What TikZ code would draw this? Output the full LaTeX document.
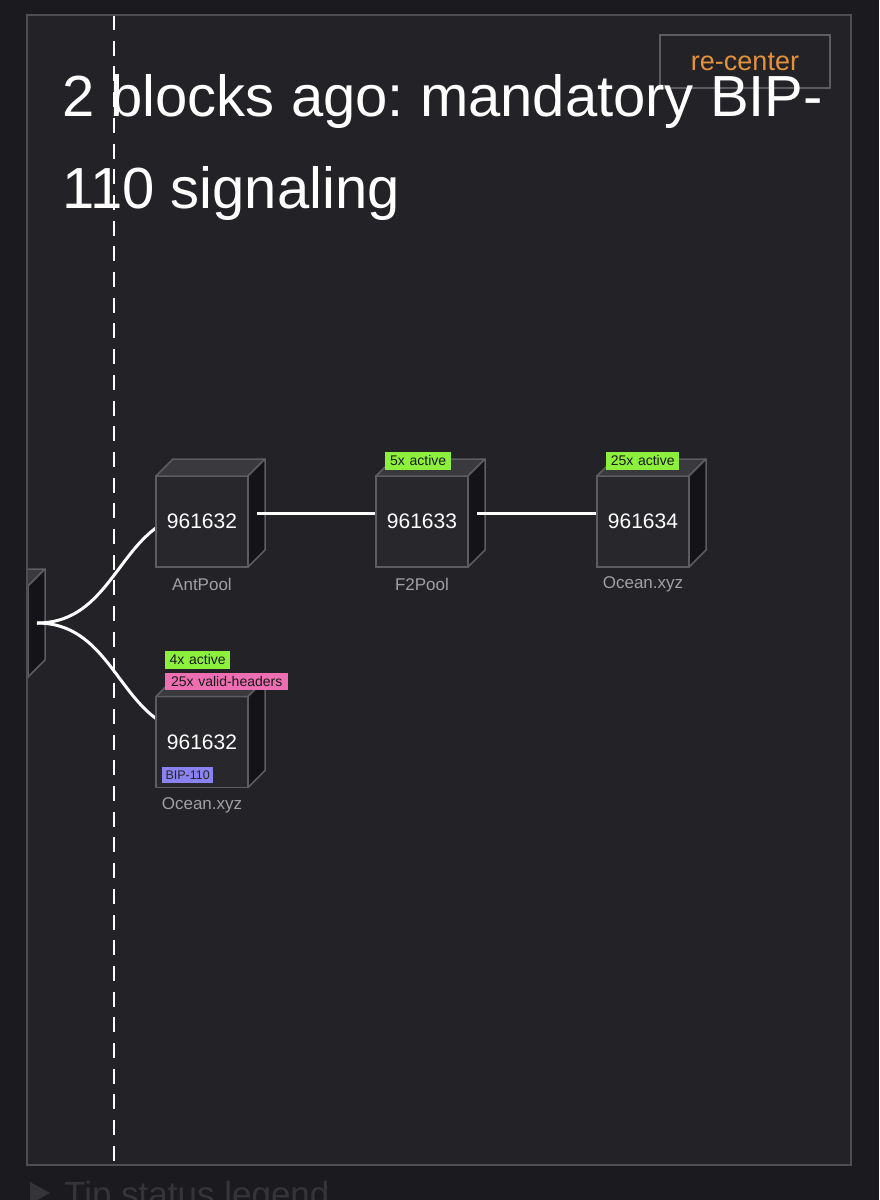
\documentclass[tikz,border=0pt]{standalone}
\usepackage{fontspec}
\setmainfont{Liberation Sans}
\frenchspacing
\definecolor{outerbg}{RGB}{27,27,31}
\definecolor{panelbg}{RGB}{35,35,39}
\definecolor{paneledge}{RGB}{78,78,82}
\definecolor{frontc}{RGB}{40,40,44}
\definecolor{topc}{RGB}{58,58,62}
\definecolor{sidec}{RGB}{20,20,24}
\definecolor{edgec}{RGB}{92,92,97}
\definecolor{labelc}{RGB}{160,160,165}
\definecolor{greentag}{RGB}{140,240,60}
\definecolor{pinktag}{RGB}{238,110,178}
\definecolor{purpletag}{RGB}{138,130,240}
\definecolor{orangec}{RGB}{228,145,60}
\definecolor{btnedge}{RGB}{92,92,97}
\definecolor{legendc}{RGB}{52,52,57}
\tikzset{
  frontbox/.style={draw=edgec, fill=frontc, line width=1.5pt, minimum width=92pt, minimum height=91pt, inner sep=0pt, outer sep=0pt, text=white, font=\fontsize{21}{24}\selectfont},
  facetop/.style={fill=topc, draw=edgec, line width=1.5pt, line join=round},
  faceside/.style={fill=sidec, draw=edgec, line width=1.5pt, line join=round},
  poollabel/.style={text=labelc, font=\fontsize{17}{20}\selectfont, inner sep=0pt},
  tagbox/.style={anchor=north west, inner sep=0pt, minimum height=17.5pt, text width=#1, align=center, text=black!90, font=\fontsize{14}{16}\selectfont},
  link/.style={draw=white, line width=3pt},
}
\newcommand{\blockcube}[4]{%
  \node[frontbox] (#1) at (#2,#3) {#4};
  \path[facetop] (#1.north west) -- ++(17,-17) -- ++(92,0) -- (#1.north east) -- cycle;
  \path[faceside] (#1.north east) -- ++(17,-17) -- ++(0,91) -- (#1.south east) -- cycle;
}
\begin{document}
\begin{tikzpicture}[x=1pt,y=-1pt]
\useasboundingbox (0,0) rectangle (879,1200);
\fill[outerbg] (0,0) rectangle (879,1200);
\node[anchor=base west, text=legendc, font=\fontsize{35}{40}\selectfont, inner sep=0pt] (legend) at (64,1206) {Tip status legend};
\fill[legendc] (30,1182) -- (30,1204) -- (50,1193) -- cycle;
\fill[panelbg] (27,15) rectangle (851,1165);
\begin{scope}
  \clip (27,15) rectangle (851,1165);
  \draw[white, line width=1.6pt, dash pattern=on 15pt off 10.7pt] (114,15) -- (114,1165);
  % partial cube at left edge
  \blockcube{prev}{-18}{631.5}{}
  % links from previous block
  \path (202,521.5) coordinate (antc) (202,742) coordinate (ocnc);
  \draw[link] ([xshift=55pt,yshift=8.5pt]prev.center) .. controls +(82.5,0) and +(-82.5,0) .. ([yshift=8.5pt]ocnc);
  \draw[link] ([xshift=55pt,yshift=8.5pt]prev.center) .. controls +(82.5,0) and +(-82.5,0) .. ([yshift=8.5pt]antc);
  \blockcube{ant}{202}{521.5}{961632}
  \blockcube{ocnlow}{202}{742}{961632}
  \node[tagbox=65pt, fill=greentag] (tag4) at (165,651) {4x active};
  \node[tagbox=123pt, fill=pinktag] (tag25v) at (165,672.5) {25x valid-headers};
  \node[anchor=north west, inner sep=0pt, minimum height=15.5pt, text width=51pt, align=center, fill=purpletag, text=black!85, font=\fontsize{12.5}{14}\selectfont] (tagbip) at (162,767) {BIP-110};
  \path (422,521.5) coordinate (f2c) (643,521.5) coordinate (ocnc2);
  \draw[link] ([xshift=55pt,yshift=8.5pt]ant.center) -- ([yshift=8.5pt]f2c);
  \blockcube{f2}{422}{521.5}{961633}
  \node[tagbox=66pt, fill=greentag] (tag5) at (385,452) {5x active};
  \draw[link] ([xshift=55pt,yshift=8.5pt]f2.center) -- ([yshift=8.5pt]ocnc2);
  \blockcube{ocn}{643}{521.5}{961634}
  \node[tagbox=73pt, fill=greentag] (tag25) at (606,452) {25x active};
  \node[poollabel] (lant) at (202,584) {AntPool};
  \node[poollabel] (lf2) at (422,584) {F2Pool};
  \node[poollabel] (locn) at (643,584) {Ocean.xyz};
  \node[poollabel] (locnlow) at (202,805) {Ocean.xyz};
  % button and title
  \node[draw=btnedge, line width=1.8pt, minimum width=170pt, minimum height=53pt, inner sep=0pt, text=orangec, font=\fontsize{27}{30}\selectfont] (recenter) at (745,61.5) {re-center};
  \node[anchor=base west, inner sep=0pt, text=white, font=\fontsize{58}{70}\selectfont] (title1) at (62,116) {2 blocks ago: mandatory BIP-};
  \node[anchor=base west, inner sep=0pt, text=white, font=\fontsize{58}{70}\selectfont] (title2) at (62,208) {110 signaling};
\end{scope}
\draw[paneledge, line width=2pt] (27,15) rectangle (851,1165);
\end{tikzpicture}
\end{document}
